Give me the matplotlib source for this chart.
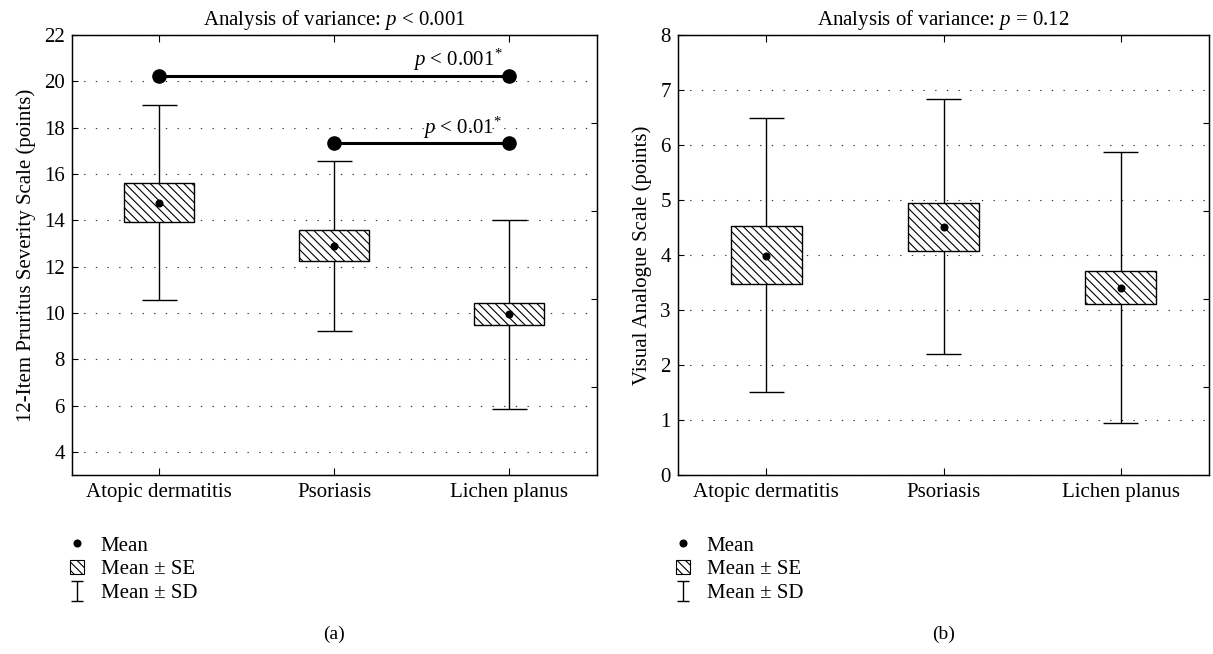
import numpy as np
import matplotlib
matplotlib.use('Agg')
import matplotlib.pyplot as plt
from matplotlib.patches import Patch
from matplotlib.lines import Line2D
from matplotlib.path import Path

plt.rcParams['font.family'] = ['Liberation Serif', 'DejaVu Serif']
plt.rcParams['mathtext.fontset'] = 'custom'
plt.rcParams['mathtext.rm'] = 'Liberation Serif'
plt.rcParams['mathtext.it'] = 'Liberation Serif:italic'
plt.rcParams['hatch.linewidth'] = 0.8

categories = ['Atopic dermatitis', 'Psoriasis', 'Lichen planus']

# panel (a): 12-item pruritus severity scale
pss_mean  = [14.75, 12.89, 9.94]
pss_se_lo = [13.93, 12.23, 9.48]
pss_se_hi = [15.61, 13.58, 10.43]
pss_sd_lo = [10.56, 9.22, 5.87]
pss_sd_hi = [18.97, 16.57, 14.03]
pss_yticks = [4, 6, 8, 10, 12, 14, 16, 18, 20, 22]

# pairwise comparisons drawn above the boxes
bracket_from = [0, 1]
bracket_to   = [2, 2]
bracket_y    = [20.25, 17.33]
bracket_text = ['$p$ < 0.001$^{*}$', '$p$ < 0.01$^{*}$']

# panel (b): visual analogue scale
vas_mean  = [3.99, 4.51, 3.40]
vas_se_lo = [3.48, 4.08, 3.11]
vas_se_hi = [4.52, 4.95, 3.71]
vas_sd_lo = [1.51, 2.20, 0.95]
vas_sd_hi = [6.49, 6.84, 5.88]
vas_yticks = [0, 1, 2, 3, 4, 5, 6, 7, 8]

FS = 15
HATCH = '\\\\\\\\'


def draw_panel(ax, mean, se_lo, se_hi, sd_lo, sd_hi, yticks, ylim, ylabel, title):
    x = np.arange(len(categories))
    ax.vlines(x, sd_lo, sd_hi, color='black', lw=1.0, zorder=1)
    ax.hlines(sd_lo, x - 0.1, x + 0.1, color='black', lw=1.0, zorder=1)
    ax.hlines(sd_hi, x - 0.1, x + 0.1, color='black', lw=1.0, zorder=1)
    ax.bar(x, np.subtract(se_hi, se_lo), bottom=se_lo, width=0.4, color='white',
           edgecolor='black', lw=1.0, hatch=HATCH, zorder=2)
    ax.plot(x, mean, 'o', color='black', ms=4.8, zorder=3)

    ax.set_xlim(-0.5, 2.5)
    ax.set_ylim(*ylim)
    ax.set_xticks(x)
    ax.set_xticklabels(categories, fontsize=FS)
    ax.set_yticks(yticks)
    ax.tick_params(axis='y', labelsize=FS, direction='in', length=4, left=True, right=False, pad=5)
    ax.tick_params(axis='x', direction='in', length=5, top=True, pad=6)
    ax.grid(axis='y', color='#333333', lw=0.8, linestyle=(0, (1.2, 9.3)))
    ax.set_axisbelow(True)
    ax.set_ylabel(ylabel, fontsize=FS, labelpad=6)
    ax.set_title(title, fontsize=FS, pad=7)
    for s in ax.spines.values():
        s.set_linewidth(1.0)

    # right-hand ticks on a 0-5 scale, no labels
    ax2 = ax.twinx()
    ax2.set_ylim(0, 5)
    ax2.set_yticks([1, 2, 3, 4])
    ax2.tick_params(direction='in', length=4, labelright=False)


def add_legend(ax, fig):
    ibeam = Path([(-0.6, 1), (0.6, 1), (0, 1), (0, -1), (-0.6, -1), (0.6, -1)],
                 [Path.MOVETO, Path.LINETO, Path.MOVETO, Path.LINETO, Path.MOVETO, Path.LINETO])
    handles = [
        Line2D([], [], marker='o', color='black', ls='none', ms=4.8),
        Patch(facecolor='white', edgecolor='black', hatch=HATCH, lw=0.8),
        Line2D([], [], marker=ibeam, color='black', ls='none', ms=14, mew=1.0),
    ]
    labels = ['Mean', 'Mean \u00b1 SE', 'Mean \u00b1 SD']
    x0 = ax.get_position().x0 - 0.001
    ax.legend(handles, labels, loc='upper left', bbox_to_anchor=(x0, 1 - 536 / 654),
              bbox_transform=fig.transFigure, frameon=False, fontsize=FS,
              handlelength=0.65, handleheight=0.7, handletextpad=0.8,
              labelspacing=0.2, borderpad=0, borderaxespad=0)


fig = plt.figure(figsize=(12.13, 6.54), dpi=100)
ax_a = fig.add_axes([0.0591, 0.2737, 0.4327, 0.6728])
ax_b = fig.add_axes([0.5587, 0.2737, 0.4383, 0.6728])

draw_panel(ax_a, pss_mean, pss_se_lo, pss_se_hi, pss_sd_lo, pss_sd_hi, pss_yticks, (3, 22),
           '12-Item Pruritus Severity Scale (points)', 'Analysis of variance: $p$ < 0.001')
draw_panel(ax_b, vas_mean, vas_se_lo, vas_se_hi, vas_sd_lo, vas_sd_hi, vas_yticks, (0, 8),
           'Visual Analogue Scale (points)', 'Analysis of variance: $p$ = 0.12')

for x1, x2, y, txt in zip(bracket_from, bracket_to, bracket_y, bracket_text):
    ax_a.plot([x1, x2], [y, y], '-o', color='black', lw=2.2, ms=9.5, zorder=4)
    ax_a.annotate(txt, xy=(x2, y), xytext=(-5, 7), textcoords='offset points',
                  ha='right', va='baseline', fontsize=FS)

add_legend(ax_a, fig)
add_legend(ax_b, fig)

for ax, cap in [(ax_a, '(a)'), (ax_b, '(b)')]:
    pos = ax.get_position()
    fig.text((pos.x0 + pos.x1) / 2, 1 - 634 / 654, cap, ha='center', va='center', fontsize=FS - 1)

fig.savefig('out.png', dpi=100)
